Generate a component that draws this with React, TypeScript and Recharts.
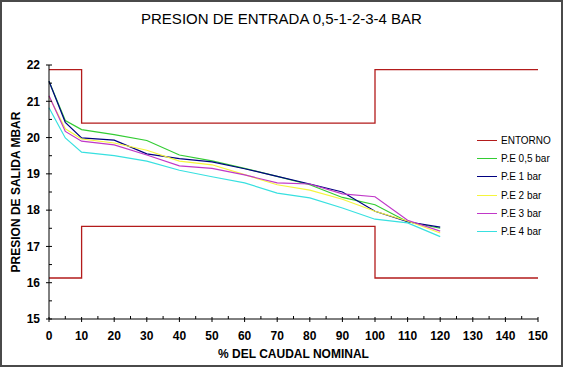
import React from "react";
import { LineChart, Line, XAxis, YAxis, Legend } from "recharts";

// % del caudal nominal
const xValues = [0, 5, 10, 20, 30, 40, 50, 60, 70, 80, 90, 100, 110, 120];

// presion de salida (mbar) por presion de entrada
const pe05 = [21.55, 20.47, 20.22, 20.08, 19.92, 19.52, 19.36, 19.15, 18.93, 18.7, 18.35, 18.15, 17.68, 17.5];
const pe1 = [21.55, 20.42, 19.99, 19.93, 19.55, 19.42, 19.33, 19.14, 18.93, 18.72, 18.5, 17.97, 17.68, 17.53];
const pe2 = [21.13, 20.24, 19.96, 19.85, 19.65, 19.35, 19.25, 18.98, 18.7, 18.55, 18.3, 17.97, 17.7, 17.37];
const pe3 = [21.15, 20.17, 19.9, 19.8, 19.52, 19.22, 19.15, 18.97, 18.75, 18.72, 18.45, 18.37, 17.72, 17.42];
const pe4 = [20.82, 19.99, 19.6, 19.5, 19.35, 19.1, 18.92, 18.75, 18.47, 18.34, 18.06, 17.75, 17.65, 17.27];

// entorno (banda de tolerancia), escalonado
const entornoX = [0, 10, 100, 150];
const entornoUpper = [21.87, 20.4, 21.87, 21.87];
const entornoLower = [16.13, 17.55, 16.13, 16.13];

const xTicks = [0, 5, 10, 15, 20, 25, 30, 35, 40, 45, 50, 55, 60, 65, 70, 75, 80, 85, 90, 95, 100, 105, 110, 115, 120, 125, 130, 135, 140, 145, 150];
const yTicks = [15, 15.5, 16, 16.5, 17, 17.5, 18, 18.5, 19, 19.5, 20, 20.5, 21, 21.5, 22];

const data = xValues.map((x, i) => ({ x, pe05: pe05[i], pe1: pe1[i], pe2: pe2[i], pe3: pe3[i], pe4: pe4[i] }));
const upperData = entornoX.map((x, i) => ({ x, v: entornoUpper[i] }));
const lowerData = entornoX.map((x, i) => ({ x, v: entornoLower[i] }));

const FONT = "'Liberation Sans', Arial, sans-serif";

const XTick = (props: any) => {
  const { x, y, payload } = props;
  const major = payload.value % 10 === 0;
  return (
    <g>
      <line x1={x} x2={x} y1={major ? y - 2 : y - 3} y2={major ? y + 3 : y} stroke="#000" />
      {major && (
        <text x={x} y={y + 21} textAnchor="middle" fontFamily={FONT} fontSize={12} fontWeight="bold" fill="#000">
          {payload.value}
        </text>
      )}
    </g>
  );
};

const YTick = (props: any) => {
  const { x, y, payload } = props;
  const major = payload.value % 1 === 0;
  return (
    <g>
      <line x1={major ? x - 3 : x} x2={x + 3} y1={y} y2={y} stroke="#000" />
      {major && (
        <text x={x - 9} y={y + 4.3} textAnchor="end" fontFamily={FONT} fontSize={12} fontWeight="bold" fill="#000">
          {payload.value}
        </text>
      )}
    </g>
  );
};

const renderLegend = (props: any) => {
  const items = (props.payload || []).filter((item: any) => item.type !== "none");
  return (
    <div style={{ fontFamily: "'Liberation Sans Narrow', 'Liberation Sans', Arial, sans-serif", fontSize: 10, color: "#000" }}>
      {items.map((item: any) => (
        <div key={item.value} style={{ display: "flex", alignItems: "center", height: 18.2, whiteSpace: "nowrap" }}>
          <span style={{ display: "inline-block", width: 20, borderTop: `1.5px solid ${item.color}`, marginRight: 4 }} />
          <span>{item.value}</span>
        </div>
      ))}
    </div>
  );
};

export default function App() {
  return (
    <div style={{ position: "absolute", left: 0, top: 0, width: 563, height: 367, background: "#fff" }}>
      <LineChart width={563} height={367} data={data} margin={{ top: 65, right: 25, bottom: 18, left: 0 }}>
        <XAxis
          dataKey="x"
          type="number"
          domain={[0, 150]}
          ticks={xTicks}
          interval={0}
          tickSize={0}
          tickMargin={0}
          tickLine={false}
          height={30}
          axisLine={{ stroke: "#000" }}
          tick={(p: any) => <XTick {...p} />}
        />
        <YAxis
          type="number"
          domain={[15, 22]}
          ticks={yTicks}
          interval={0}
          tickSize={0}
          tickMargin={0}
          tickLine={false}
          width={49}
          axisLine={{ stroke: "#000" }}
          tick={(p: any) => <YTick {...p} />}
        />
        <Legend
          layout="horizontal"
          verticalAlign="middle"
          align="center"
          content={renderLegend}
          wrapperStyle={{ left: 477, top: 131.5, width: 86 }}
        />
        <Line data={upperData} dataKey="v" name="ENTORNO" type="stepAfter" stroke="#b31b1b" strokeWidth={1.3} dot={false} isAnimationActive={false} />
        <Line data={lowerData} dataKey="v" name="ENTORNO inf" legendType="none" type="stepAfter" stroke="#b31b1b" strokeWidth={1.3} dot={false} isAnimationActive={false} />
        <Line dataKey="pe05" name="P.E 0,5 bar" stroke="#33cc33" strokeWidth={1.2} dot={false} isAnimationActive={false} />
        <Line dataKey="pe1" name="P.E 1 bar" stroke="#000080" strokeWidth={1.2} dot={false} isAnimationActive={false} />
        <Line dataKey="pe2" name="P.E 2 bar" stroke="#f5f53d" strokeWidth={1.2} dot={false} isAnimationActive={false} />
        <Line dataKey="pe3" name="P.E 3 bar" stroke="#c038c8" strokeWidth={1.2} dot={false} isAnimationActive={false} />
        <Line dataKey="pe4" name="P.E 4 bar" stroke="#38e0e0" strokeWidth={1.2} dot={false} isAnimationActive={false} />
      </LineChart>
      <div style={{ position: "absolute", left: 0, top: 11, width: 563, textAlign: "center", fontFamily: FONT, fontSize: 15, lineHeight: "16px", color: "#000" }}>
        PRESION DE ENTRADA 0,5-1-2-3-4 BAR
      </div>
      <div style={{ position: "absolute", left: 49, top: 347, width: 489, textAlign: "center", fontFamily: FONT, fontSize: 12, fontWeight: "bold", lineHeight: "14px", color: "#000" }}>
        % DEL CAUDAL NOMINAL
      </div>
      <div
        style={{
          position: "absolute",
          left: 16 - 100,
          top: 192 - 7,
          width: 200,
          textAlign: "center",
          transform: "rotate(-90deg)",
          fontFamily: FONT,
          fontSize: 12,
          fontWeight: "bold",
          lineHeight: "14px",
          color: "#000",
        }}
      >
        PRESION DE SALIDA MBAR
      </div>
      <div style={{ position: "absolute", inset: 0, border: "2px solid #4a4a4a", pointerEvents: "none" }} />
    </div>
  );
}
